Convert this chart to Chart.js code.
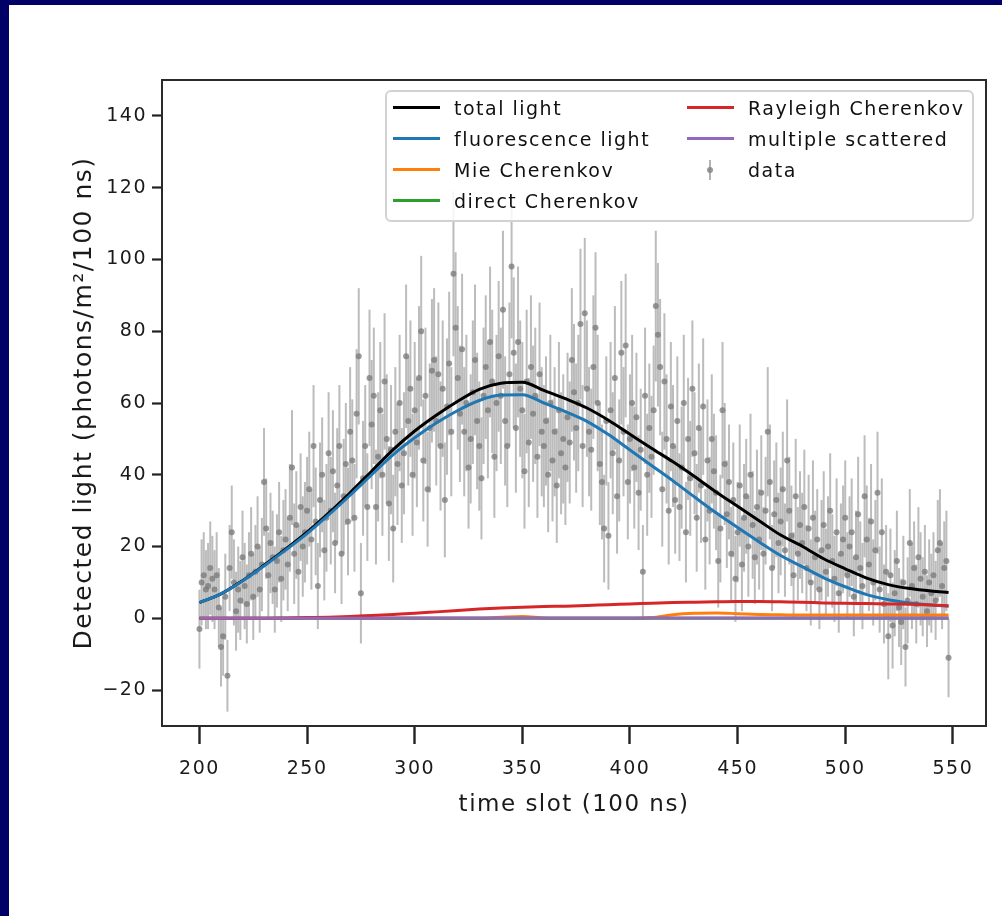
<!DOCTYPE html>
<html>
<head>
<meta charset="utf-8">
<script src="https://cdn.jsdelivr.net/npm/chart.js@4.4.1/dist/chart.umd.min.js"></script>
<style>
  html, body { margin: 0; padding: 0; background: #ffffff; }
  #wrap { position: relative; width: 1002px; height: 916px; overflow: hidden; background: #ffffff; }
  #c { position: absolute; left: 0; top: 0; }
  .navy { position: absolute; background: #000066; }
  #legend {
    position: absolute; left: 385px; top: 90px; width: 589px; height: 132px;
    box-sizing: border-box; border: 2px solid #d2d2d2; border-radius: 6px;
    background: rgba(255,255,255,0.85);
    font-family: "DejaVu Sans", sans-serif; font-size: 19px; letter-spacing: 1.5px; color: #111;
  }
  .lg-item { position: absolute; height: 22px; }
  .lg-line { position: absolute; top: 9px; height: 3px; width: 47px; }
  .lg-text { position: absolute; top: 0; line-height: 22px; white-space: nowrap; }
  .lg-bar { position: absolute; width: 2px; background: rgba(128,128,128,0.6); }
  .lg-dot { position: absolute; width: 6px; height: 6px; border-radius: 3px; background: rgba(128,128,128,0.8); }
</style>
</head>
<body>
<div id="wrap">
  <canvas id="c" width="1002" height="916"></canvas>
  <div class="navy" style="left:0;top:0;width:1002px;height:5px;"></div>
  <div class="navy" style="left:0;top:0;width:9px;height:916px;"></div>
  <div id="legend"></div>
</div>
<script>
// ---------------- data ----------------
const xTicks = [200, 250, 300, 350, 400, 450, 500, 550];
const yTicks = [-20, 0, 20, 40, 60, 80, 100, 120, 140];

// model curve sample positions (time slot)
const curveSlots = [200,210,220,230,240,250,260,270,280,290,300,310,320,330,340,350,360,370,380,390,400,410,420,430,440,450,460,470,480,490,500,510,520,530,540,548];
const totalLight = [4.4,6.8,10.5,14.8,19.3,24,29.3,35,41,47,52.2,56.6,60.5,63.8,65.5,65.8,63.5,61.2,58.6,55.2,51.3,47.4,43.6,39.5,35.2,31.2,27.2,23.2,20.1,16.6,13.8,11.2,9.4,8.3,7.6,7.2];
const fluorescenceLight = [4.4,6.8,10.4,14.6,19,23.6,28.8,34.3,40,45.6,50.3,54.4,57.9,60.7,62.2,62.3,60,57.6,54.9,51.2,46.9,42.6,38.3,33.8,29.4,25.3,21.3,17.5,14.4,11.3,8.8,6.6,5.2,4.3,3.7,3.4];
const mieCherenkov = [0,0,0,0,0,0,0,0,0,0,0,0,0,0,0.3,0.5,0.1,0,0,0,0,0.2,1.0,1.4,1.5,1.3,1.1,1.0,0.9,0.9,0.9,0.9,0.9,0.9,0.9,0.9];
const directCherenkov = [0,0,0,0,0,0,0,0,0,0,0,0,0,0,0,0,0,0,0,0,0,0,0,0,0,0,0,0,0,0,0,0,0,0,0,0];
const rayleighCherenkov = [0,0,0,0,0.1,0.2,0.3,0.5,0.8,1.1,1.4,1.8,2.2,2.6,2.9,3.1,3.3,3.4,3.6,3.8,4.0,4.2,4.4,4.5,4.6,4.7,4.7,4.6,4.5,4.3,4.2,4.1,4.0,3.9,3.7,3.5];
const multipleScattered = [0,0,0,0,0,0,0,0,0,0.1,0.1,0.1,0.1,0.1,0.1,0.1,0.1,0.1,0.1,0.1,0.1,0.1,0.1,0.1,0.1,0.1,0.1,0.1,0.1,0.1,0.1,0.1,0.1,0.1,0.1,0.1];

// measured data: one point per time slot 200..548
const timeSlots = [];
for (let t = 200; t <= 548; t++) timeSlots.push(t);
const dataValues = [
  -3, 10, 12, 8, 9, 14, 11, 8, 12, 3,
  -8, -5, 6, -16, 14, 24, 10, 2, 8, 5,
  17, 9, 4, 12, 18, 6, 13, 20, 8, 15,
  38, 25, 12, 21, 17, 8, 16, 24, 11, 19,
  22, 15, 28, 42, 18, 26, 13, 31, 20, 24,
  30, 36, 22, 48, 27, 9, 33, 40, 19, 28,
  46, 30, 41, 21, 37, 48, 18, 34, 43, 27,
  52, 44, 28, 57, 73, 7, 39, 48, 31, 67,
  54, 62, 31, 45, 58, 40, 66, 50, 32, 47,
  25, 52, 43, 60, 37, 46, 73, 55, 64, 40,
  58, 49, 67, 80, 44, 62, 36, 53, 69, 72,
  55, 68, 48, 64, 33, 59, 71, 52, 96, 81,
  67, 57, 75, 52, 60, 42, 50, 63, 72, 55,
  48, 39, 62, 70, 58, 77, 66, 45, 60, 73,
  62, 86, 55, 48, 68, 98, 74, 53, 77, 64,
  58, 41, 66, 49, 70, 57, 62, 45, 68, 52,
  48, 55, 40, 60, 44, 52, 37, 58, 46, 50,
  42, 56, 49, 72, 63, 53, 60, 82, 48, 85,
  64, 52, 47, 70, 81, 60, 43, 38, 25, 55,
  23, 58, 46, 67, 34, 44, 74, 52, 76, 38,
  50, 60, 42, 56, 35, 47, 13, 62, 40, 53,
  45, 58, 87, 79, 70, 36, 66, 50, 30, 59,
  48, 33, 55, 31, 42, 60, 24, 50, 39, 64,
  46, 28, 53, 37, 59, 22, 44, 30, 50, 41,
  35, 16, 25, 58, 43, 29, 38, 18, 33, 11,
  24, 37, 15, 28, 34, 20, 40, 26, 17, 31,
  22, 35, 18, 30, 52, 38, 14, 29, 33, 21,
  27, 36, 19, 44, 30, 23, 12, 34, 18, 26,
  21, 31, 14, 25, 10, 28, 17, 22, 8, 19,
  26, 13, 20, 30, 16, 11, 24, 7, 18, 22,
  28, 12, 20, 24, 6, 17, 29, 14, 9, 34,
  22, 15, 27, 10, 19, 35, 8, 24, 4, 13,
  -5, 12, -2, 7, 16, 3, -1, 10, -8, 5,
  21, 9, 14, 4, 17, 11, 6, 13, 2, 10,
  7, 12, 5, 19, 21, 9, 14, 16, -11
];
const dataErrors = [
  11, 12, 12, 11, 12, 13, 12, 11, 12, 11,
  11, 11, 12, 10, 12, 13, 12, 11, 12, 11,
  13, 12, 11, 12, 13, 12, 13, 14, 12, 13,
  15, 14, 12, 14, 13, 12, 13, 14, 12, 14,
  14, 13, 15, 16, 14, 15, 13, 15, 14, 14,
  15, 16, 14, 17, 15, 12, 16, 16, 14, 15,
  17, 15, 17, 14, 16, 17, 14, 16, 17, 15,
  18, 17, 15, 18, 19, 14, 16, 17, 15, 19,
  18, 19, 16, 18, 19, 17, 19, 18, 16, 18,
  15, 18, 17, 19, 16, 17, 20, 18, 19, 17,
  19, 18, 20, 21, 17, 19, 16, 18, 20, 20,
  18, 20, 18, 19, 16, 19, 20, 18, 23, 21,
  20, 19, 21, 18, 19, 17, 18, 20, 21, 19,
  18, 17, 19, 20, 19, 21, 20, 17, 19, 21,
  19, 22, 18, 17, 20, 20, 21, 18, 21, 19,
  19, 16, 20, 18, 20, 19, 19, 17, 20, 18,
  17, 18, 16, 19, 17, 18, 16, 19, 17, 18,
  16, 18, 17, 20, 19, 18, 19, 21, 17, 21,
  19, 18, 17, 20, 21, 19, 17, 16, 15, 18,
  15, 19, 17, 20, 16, 17, 20, 18, 20, 16,
  18, 19, 17, 18, 16, 17, 13, 19, 17, 18,
  17, 18, 21, 20, 19, 16, 19, 18, 15, 18,
  17, 15, 18, 15, 17, 19, 14, 17, 16, 19,
  17, 15, 18, 16, 19, 14, 17, 15, 18, 16,
  16, 13, 15, 19, 17, 15, 16, 13, 16, 12,
  14, 17, 13, 15, 16, 14, 17, 15, 13, 16,
  14, 16, 13, 15, 18, 16, 12, 15, 16, 14,
  15, 16, 13, 17, 15, 14, 12, 16, 13, 15,
  14, 16, 12, 15, 12, 16, 13, 14, 11, 14,
  15, 12, 14, 16, 13, 12, 15, 11, 14, 15,
  16, 12, 14, 15, 11, 13, 16, 13, 12, 17,
  15, 13, 16, 12, 14, 17, 12, 15, 11, 13,
  12, 13, 12, 12, 14, 11, 12, 13, 11, 12,
  15, 12, 13, 11, 14, 13, 11, 13, 10, 12,
  11, 12, 11, 14, 15, 12, 13, 14, 11
];

// ---------------- chart ----------------
const FONT = 'DejaVu Sans';
function curve(label, values, color, order) {
  return {
    type: 'line', label: label,
    data: curveSlots.map((x, i) => ({ x: x, y: values[i] })),
    borderColor: color, backgroundColor: color, borderWidth: 3,
    pointRadius: 0, cubicInterpolationMode: 'monotone', fill: false, order: order
  };
}

const datasets = [
  curve('total light', totalLight, '#000000', 6),
  curve('fluorescence light', fluorescenceLight, '#1f77b4', 5),
  curve('Mie Cherenkov', mieCherenkov, '#ff7f0e', 4),
  curve('direct Cherenkov', directCherenkov, '#2ca02c', 3),
  curve('Rayleigh Cherenkov', rayleighCherenkov, '#d62728', 2),
  curve('multiple scattered', multipleScattered, '#9467bd', 1),
  {
    type: 'scatter', label: 'data',
    data: timeSlots.map((x, i) => ({ x: x, y: dataValues[i] })),
    backgroundColor: 'rgba(120,120,120,0.75)', borderWidth: 0, pointRadius: 3, order: 20
  },
  {
    type: 'bar', label: 'data errors',
    data: timeSlots.map((x, i) => ({ x: x, y: [dataValues[i] - dataErrors[i], dataValues[i] + dataErrors[i]] })),
    backgroundColor: 'rgba(135,135,135,0.56)', borderWidth: 0, barThickness: 2,
    inflateAmount: 0, grouped: false, order: 21
  }
];

const spinePlugin = {
  id: 'spines',
  beforeUpdate(chart) { chart.ctx.letterSpacing = '1.5px'; },
  beforeDraw(chart) { chart.ctx.letterSpacing = '1.5px'; },
  afterDatasetsDraw(chart) {
    const ctx = chart.ctx, a = chart.chartArea;
    ctx.save();
    ctx.strokeStyle = '#2a2a2a';
    ctx.lineWidth = 2;
    ctx.strokeRect(a.left, a.top, a.right - a.left, a.bottom - a.top);
    ctx.restore();
  }
};

const fmt = v => (v < 0 ? '\u2212' + Math.abs(v) : String(v));

new Chart(document.getElementById('c'), {
  type: 'scatter',
  data: { datasets: datasets },
  plugins: [spinePlugin],
  options: {
    responsive: false, animation: false, events: [],
    layout: { padding: { top: 80, right: 16, bottom: 80, left: 58 } },
    plugins: { legend: { display: false }, tooltip: { enabled: false } },
    scales: {
      x: {
        type: 'linear', min: 182.6, max: 565.4, offset: false,
        afterBuildTicks: s => { s.ticks = xTicks.map(v => ({ value: v })); },
        afterFit: s => { s.height = 110; },
        grid: { offset: false, drawOnChartArea: false, drawTicks: true, tickLength: 18, tickWidth: 2.4, tickColor: '#222', color: '#222' },
        border: { display: false },
        ticks: { padding: 14, color: '#1a1a1a', autoSkip: false, maxRotation: 0,
                 font: { family: FONT, size: 19 }, callback: fmt },
        title: { display: true, text: 'time slot (100 ns)', color: '#1a1a1a',
                 font: { family: FONT, size: 23 }, padding: { top: 0, bottom: 17 } }
      },
      y: {
        type: 'linear', min: -30, max: 150,
        afterBuildTicks: s => { s.ticks = yTicks.map(v => ({ value: v })); },
        afterFit: s => { s.width = 104; },
        grid: { offset: false, drawOnChartArea: false, drawTicks: true, tickLength: 10, tickWidth: 2.2, tickColor: '#222', color: '#222' },
        border: { display: false },
        ticks: { padding: 5, color: '#1a1a1a', font: { family: FONT, size: 19 }, callback: fmt },
        title: { display: true, text: 'Detected light (photons/m²/100 ns)', color: '#1a1a1a',
                 font: { family: FONT, size: 25 }, padding: { top: 11, bottom: 0 } }
      }
    }
  }
});

// ---------------- legend (HTML, column-major like matplotlib) ----------------
const legendCols = [6, 300];
const legendRows = [16, 47, 78, 109];
const legendEl = document.getElementById('legend');
datasets.slice(0, 7).forEach((d, i) => {
  const col = Math.floor(i / 4), row = i % 4;
  const item = document.createElement('div');
  item.className = 'lg-item';
  item.style.left = legendCols[col] + 'px';
  item.style.top = (legendRows[row] - 11) + 'px';
  if (d.type === 'line') {
    const ln = document.createElement('div');
    ln.className = 'lg-line';
    ln.style.left = '0px';
    ln.style.background = d.borderColor;
    item.appendChild(ln);
  } else {
    const bar = document.createElement('div');
    bar.className = 'lg-bar';
    bar.style.left = '22px'; bar.style.top = '1px'; bar.style.height = '20px';
    item.appendChild(bar);
    const dot = document.createElement('div');
    dot.className = 'lg-dot';
    dot.style.left = '20px'; dot.style.top = '8px';
    item.appendChild(dot);
  }
  const tx = document.createElement('div');
  tx.className = 'lg-text';
  tx.style.left = '61px';
  tx.textContent = d.label;
  item.appendChild(tx);
  legendEl.appendChild(item);
});
</script>
</body>
</html>
